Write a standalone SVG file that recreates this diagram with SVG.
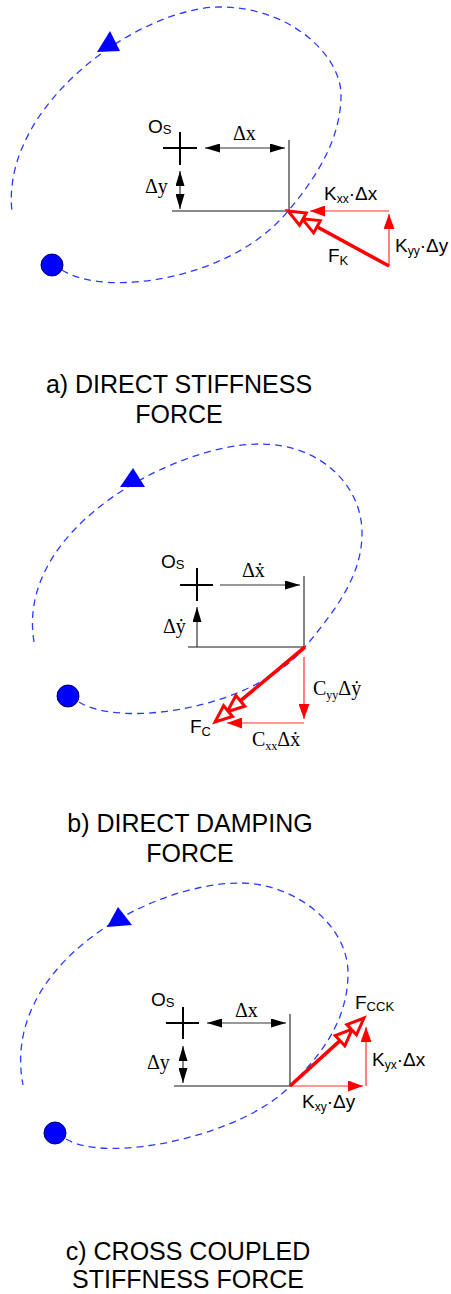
<svg xmlns="http://www.w3.org/2000/svg" width="451" height="1294" viewBox="0 0 451 1294">
<style>
.orbit{fill:none;stroke:#2a3cff;stroke-width:1.3;stroke-dasharray:7 5}
.dot{fill:#0000ff;stroke:#000070;stroke-width:1}
.tri{fill:#0000ff}
.cross{stroke:#000;stroke-width:2;fill:none}
.grey{stroke:#666;stroke-width:1.6;fill:none}
.dim{stroke:#333;stroke-width:1.2;fill:none}
.rthin{stroke:#ff3030;stroke-width:1.2;fill:none}
.rthick{stroke:#ff0000;stroke-width:3.6;fill:none}
.open{fill:#fff;stroke:#ff0000;stroke-width:3;stroke-linejoin:miter}
.sans{font-family:"Liberation Sans",Arial,sans-serif;fill:#000}
.serif{font-family:"Liberation Serif","Times New Roman",serif;fill:#000}
.cap{font-family:"Liberation Sans",Arial,sans-serif;font-size:25px;fill:#000;text-anchor:middle}
</style>
<defs>
<marker id="ahB" viewBox="0 0 15 9" refX="15" refY="4.5" markerWidth="15" markerHeight="9" markerUnits="userSpaceOnUse" orient="auto-start-reverse"><path d="M0,0 L15,4.5 L0,9 z" fill="#000"/></marker>
<marker id="ahR" viewBox="0 0 15 11" refX="15" refY="5.5" markerWidth="15" markerHeight="11" markerUnits="userSpaceOnUse" orient="auto-start-reverse"><path d="M0,0 L15,5.5 L0,11 z" fill="#ff0000"/></marker>
</defs>

<!-- Panel a -->
<g id="panel-a">
  <g id="a-orbit">
    <path class="orbit" d="M62,270 C105,298 232,280 288,211 C320.5,173 341,135 341,95 C341,55 290,7 220,7 C140,7 0,105 12,212"/>
    <polygon class="tri" points="110,31 97,52 120,51"/>
    <circle class="dot" cx="52" cy="265" r="11"/>
  </g>
  <g id="a-center">
    <path class="cross" d="M163,148 H197 M180,132 V165"/>
    <text class="sans" x="148" y="133" font-size="19">O<tspan font-size="13" dy="1">S</tspan></text>
  </g>
  <g id="a-connectors">
    <path class="grey" d="M289,140 V211 H172"/>
    <line class="dim" x1="205" y1="148" x2="285" y2="148" marker-start="url(#ahB)" marker-end="url(#ahB)"/>
    <line class="dim" x1="180" y1="171" x2="180" y2="209" marker-start="url(#ahB)" marker-end="url(#ahB)"/>
    <line class="rthin" x1="389" y1="266" x2="389" y2="214" marker-end="url(#ahR)"/>
    <line class="rthin" x1="389" y1="211" x2="310" y2="211" marker-end="url(#ahR)"/>
    <line class="rthick" x1="389" y1="266" x2="316.98" y2="226.78"/>
    <polygon class="open" points="302.05,218.65 320.32,220.63 313.63,232.93"/>
    <polygon class="open" points="288,211 306.27,212.98 299.58,225.28"/>
  </g>
  <g id="a-labels">
    <text class="serif" x="233" y="140" font-size="20">Δx</text>
    <text class="serif" x="145" y="193" font-size="20">Δy</text>
    <text class="sans" x="324" y="200" font-size="19">K<tspan font-size="12" dy="3">xx</tspan><tspan dy="-3">·Δx</tspan></text>
    <text class="sans" x="395" y="252" font-size="19">K<tspan font-size="12" dy="3">yy</tspan><tspan dy="-3">·Δy</tspan></text>
    <text class="sans" x="328" y="262" font-size="19">F<tspan font-size="13" dy="3">K</tspan></text>
  </g>
  <g id="a-caption">
    <text class="cap" x="179" y="393">a) DIRECT STIFFNESS</text>
    <text class="cap" x="179" y="423">FORCE</text>
  </g>
</g>

<!-- Panel b -->
<g id="panel-b">
  <g id="b-orbit">
    <path class="orbit" d="M79,702 C120,728 252,710 305,647 C340,605 362,573 362,533 C362,485 320,444 260,444 C175,444 10,530 35,647"/>
    <polygon class="tri" points="133,468 120,487 145,487"/>
    <circle class="dot" cx="68" cy="696" r="11"/>
  </g>
  <g id="b-center">
    <path class="cross" d="M180,585 H213 M197,568 V601"/>
    <text class="sans" x="161" y="568" font-size="19">O<tspan font-size="13" dy="1">S</tspan></text>
  </g>
  <g id="b-connectors">
    <path class="grey" d="M304,576 V647 H188"/>
    <line class="dim" x1="220" y1="585" x2="300" y2="585" marker-end="url(#ahB)"/>
    <line class="dim" x1="197" y1="647" x2="197" y2="607" marker-end="url(#ahB)"/>
    <line class="rthin" x1="304" y1="657" x2="304" y2="719" marker-end="url(#ahR)"/>
    <line class="rthin" x1="304" y1="723" x2="227" y2="723" marker-end="url(#ahR)"/>
    <line class="rthick" x1="305" y1="647" x2="240.35" y2="700.88"/>
    <polygon class="open" points="227.29,711.76 235.87,695.50 244.83,706.26"/>
    <polygon class="open" points="215,722 223.58,705.74 232.54,716.50"/>
  </g>
  <g id="b-labels">
    <text class="serif" x="242" y="577" font-size="20">Δẋ</text>
    <text class="serif" x="163" y="633" font-size="20">Δẏ</text>
    <text class="serif" x="313" y="695" font-size="20">C<tspan font-size="12" dy="4">yy</tspan><tspan dy="-4">Δẏ</tspan></text>
    <text class="serif" x="252" y="746" font-size="20">C<tspan font-size="12" dy="4">xx</tspan><tspan dy="-4">Δẋ</tspan></text>
    <text class="sans" x="190" y="733" font-size="19">F<tspan font-size="13" dy="3">C</tspan></text>
  </g>
  <g id="b-caption">
    <text class="cap" x="190" y="832">b) DIRECT DAMPING</text>
    <text class="cap" x="190" y="862">FORCE</text>
  </g>
</g>

<!-- Panel c -->
<g id="panel-c">
  <g id="c-orbit">
    <path class="orbit" d="M66,1139 C110,1165 245,1134 290,1086 C322,1054 348,1020 348,973 C348,925 295,883 240,883 C150,883 0,965 23,1085"/>
    <polygon class="tri" points="118,907 107,927 132,925"/>
    <circle class="dot" cx="55" cy="1133" r="11"/>
  </g>
  <g id="c-center">
    <path class="cross" d="M166,1023 H199 M183,1007 V1039"/>
    <text class="sans" x="151" y="1006" font-size="19">O<tspan font-size="13" dy="1">S</tspan></text>
  </g>
  <g id="c-connectors">
    <path class="grey" d="M290,1014 V1086 H174"/>
    <line class="dim" x1="207" y1="1023" x2="286" y2="1023" marker-start="url(#ahB)" marker-end="url(#ahB)"/>
    <line class="dim" x1="183" y1="1046" x2="183" y2="1083" marker-start="url(#ahB)" marker-end="url(#ahB)"/>
    <line class="rthin" x1="290" y1="1086" x2="363" y2="1086" marker-end="url(#ahR)"/>
    <line class="rthin" x1="366" y1="1086" x2="366" y2="1027" marker-end="url(#ahR)"/>
    <line class="rthick" x1="290" y1="1086" x2="340.01" y2="1040.67"/>
    <polygon class="open" points="352.37,1028.99 344.82,1045.76 335.20,1035.58"/>
    <polygon class="open" points="364,1018 356.45,1034.77 346.83,1024.59"/>
  </g>
  <g id="c-labels">
    <text class="serif" x="235" y="1017" font-size="20">Δx</text>
    <text class="serif" x="147" y="1069" font-size="20">Δy</text>
    <text class="sans" x="355" y="1009" font-size="19">F<tspan font-size="13" dy="2">CCK</tspan></text>
    <text class="sans" x="372" y="1066" font-size="19">K<tspan font-size="12" dy="3">yx</tspan><tspan dy="-3">·Δx</tspan></text>
    <text class="sans" x="302" y="1108" font-size="19">K<tspan font-size="12" dy="3">xy</tspan><tspan dy="-3">·Δy</tspan></text>
  </g>
  <g id="c-caption">
    <text class="cap" x="188" y="1260">c) CROSS COUPLED</text>
    <text class="cap" x="188" y="1288">STIFFNESS FORCE</text>
  </g>
</g>
</svg>
